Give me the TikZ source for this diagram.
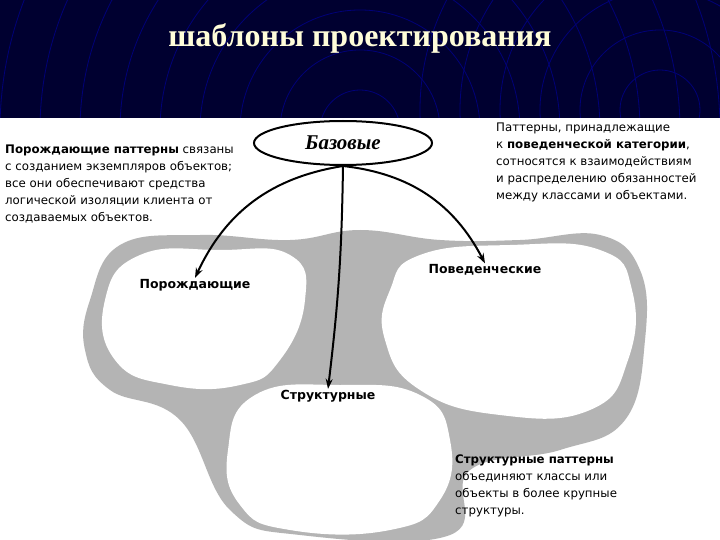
\documentclass[tikz,border=0pt]{standalone}
\usepackage{fontspec}
\setmainfont{DejaVu Sans}
\newfontfamily\titlefont{Liberation Serif}
\usetikzlibrary{arrows.meta,shapes.geometric}
\definecolor{navy}{HTML}{000030}
\definecolor{blobgrey}{HTML}{B4B4B4}
\tikzset{
 note/.style={align=left,anchor=north west,font=\fontsize{11.8}{17}\selectfont,inner sep=0pt},
 cat/.style={font=\bfseries\fontsize{12.5}{15}\selectfont,inner sep=1pt},
 arr/.style={-{Stealth[length=10pt,width=7pt]},line width=2pt},
 whiteblob/.style={fill=white,draw=none}
}
\begin{document}
\begin{tikzpicture}[x=1pt,y=-1pt]
\useasboundingbox (0,0) rectangle (720,540);
\fill[navy] (0,0) rectangle (720,118);
\begin{scope}
\clip (0,0) rectangle (720,118);
\foreach \r in {40,80,...,400}{\draw[blue!35!navy,line width=0.8pt] (360,130) circle (\r);}
\foreach \r in {40,80,...,240}{\draw[blue!35!navy,line width=0.8pt] (660,110) circle (\r);}
\end{scope}
\node[font=\titlefont\bfseries\fontsize{32}{36}\selectfont,text=yellow!15] (title) at (360,38) {шаблоны проектирования};
\fill[white] (0,118) rectangle (720,540);
% grey blob
\fill[blobgrey] plot[smooth cycle,tension=0.7] coordinates {(90,300) (120,245) (200,235) (290,240) (360,230) (440,240) (520,240) (600,235) (640,270) (645,340) (625,420) (560,450) (470,470) (450,535) (300,535) (230,510) (180,420) (110,390) (85,350)};
\fill[whiteblob] plot[smooth cycle,tension=0.8] coordinates {(105,300) (140,255) (220,250) (290,255) (305,300) (280,360) (240,385) (170,385) (115,360)};
\fill[whiteblob] plot[smooth cycle,tension=0.8] coordinates {(390,290) (420,255) (510,245) (600,250) (632,290) (628,360) (590,410) (500,415) (420,390) (385,340)};
\fill[whiteblob] plot[smooth cycle,tension=0.8] coordinates {(228,450) (255,395) (340,385) (420,395) (450,440) (440,500) (390,530) (290,530) (240,505)};
\node[draw,ellipse,line width=2pt,minimum width=178pt,minimum height=44pt,font=\titlefont\bfseries\itshape\fontsize{21}{24}\selectfont] (base) at (343,143) {Базовые};
\node[cat] (por) at (195,285) {Порождающие};
\node[cat] (pov) at (485,270) {Поведенческие};
\node[cat] (str) at (328,396) {Структурные};
\draw[arr] (base.south) to[bend right=28] (por.north);
\draw[arr] (base.south) to[bend left=3] (str.north);
\draw[arr] (base.south) to[bend left=28] (pov.north);
\node[note] (n1) at (5,145) {\textbf{Порождающие паттерны} связаны\\с созданием экземпляров объектов;\\все они обеспечивают средства\\логической изоляции клиента от\\создаваемых объектов.};
\node[note] (n2) at (496,123) {Паттерны, принадлежащие\\к \textbf{поведенческой категории},\\сотносятся к взаимодействиям\\и распределению обязанностей\\между классами и объектами.};
\node[note] (n3) at (455,455) {\textbf{Структурные паттерны}\\объединяют классы или\\объекты в более крупные\\структуры.};
\end{tikzpicture}
\end{document}
